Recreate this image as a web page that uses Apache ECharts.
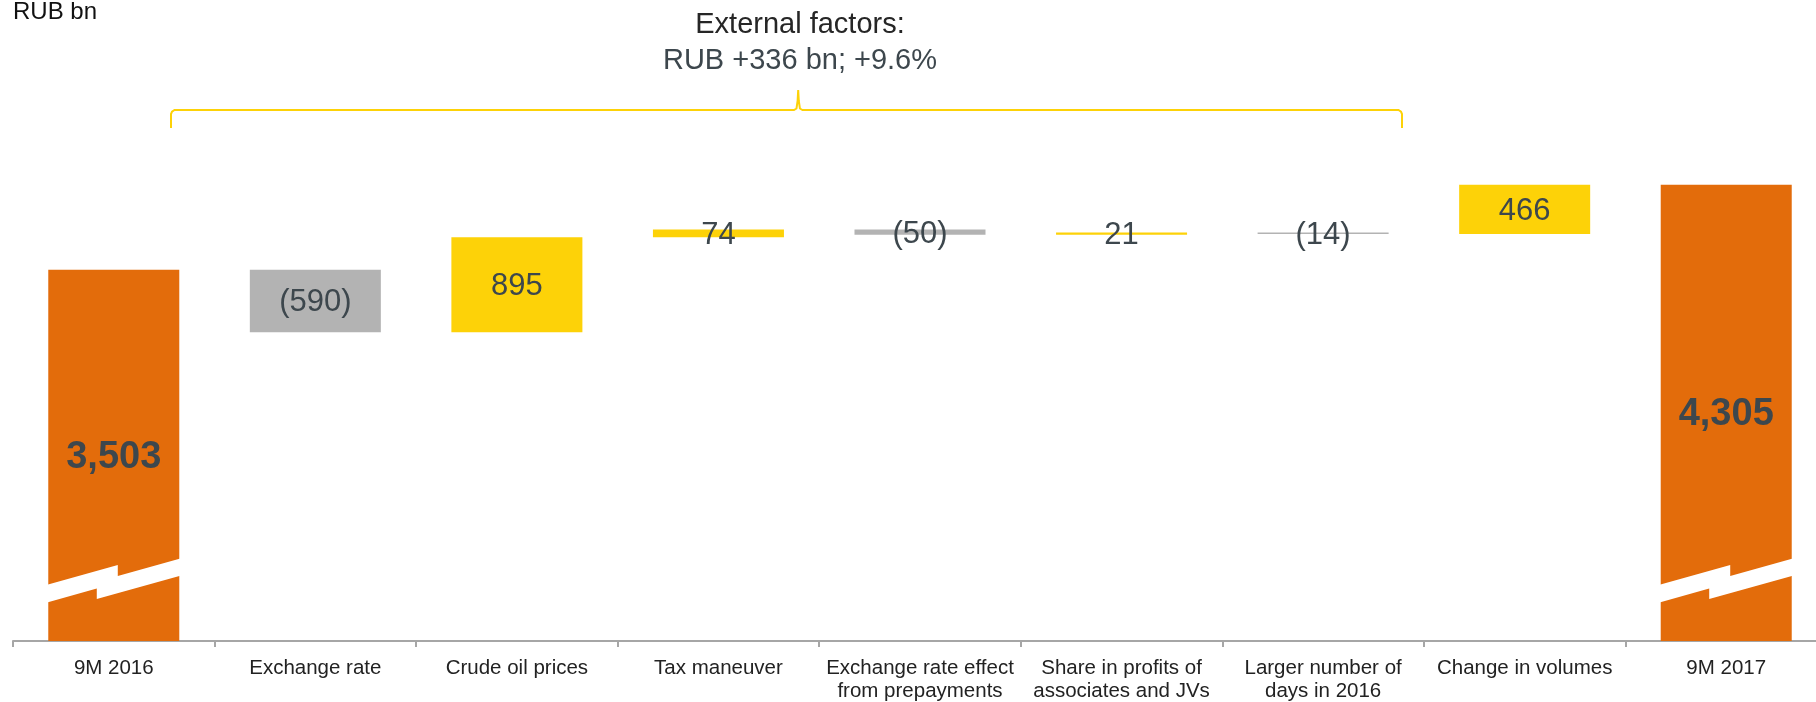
<!DOCTYPE html>
<html>
<head>
<meta charset="utf-8">
<script src="https://cdn.jsdelivr.net/npm/echarts@6/dist/echarts.min.js"></script>
<style>
  html, body { margin: 0; padding: 0; background: #fff; }
  #chart { width: 1816px; height: 702px; }
</style>
</head>
<body>
<div id="chart"></div>
<script>
// Revenue bridge, RUB bn
const categories = [
  '9M 2016',
  'Exchange rate',
  'Crude oil prices',
  'Tax maneuver',
  'Exchange rate effect\nfrom prepayments',
  'Share in profits of\nassociates and JVs',
  'Larger number of\ndays in 2016',
  'Change in volumes',
  '9M 2017'
];
const startTotal = 3503;
const changes = [-590, 895, 74, -50, 21, -14, 466];
const endTotal = 4305;

const FONT = "'Liberation Sans', Arial, sans-serif";
const ORANGE = '#E36C0B';
const YELLOW = '#FDD208';
const GREY = '#B3B3B3';
const LABEL = '#3D474D';

// Build the invisible base and visible step of each waterfall column
const baseData = [];
const stepData = [];
const shownValues = [];

baseData.push(0);
stepData.push({
  value: startTotal,
  itemStyle: { color: ORANGE },
  label: { fontSize: 38, fontWeight: 'bold' }
});
shownValues.push(startTotal);

let level = startTotal;
changes.forEach(function (c) {
  const next = level + c;
  baseData.push(Math.min(level, next));
  stepData.push({
    value: Math.abs(c),
    itemStyle: { color: c >= 0 ? YELLOW : GREY }
  });
  shownValues.push(c);
  level = next;
});

baseData.push(0);
stepData.push({
  value: endTotal,
  itemStyle: { color: ORANGE },
  label: { fontSize: 38, fontWeight: 'bold' }
});
shownValues.push(endTotal);

function fmt(i) {
  const v = shownValues[i];
  const isTotal = i === 0 || i === shownValues.length - 1;
  if (isTotal) return v.toLocaleString('en-US');
  return v < 0 ? '(' + Math.abs(v).toLocaleString('en-US') + ')' : v.toLocaleString('en-US');
}

const chart = echarts.init(document.getElementById('chart'), null, { renderer: 'canvas' });

const option = {
  animation: false,
  backgroundColor: '#ffffff',
  grid: {
    left: 13, width: 1814, top: 111, height: 530,
    containLabel: false,
    outerBoundsMode: 'none'
  },
  xAxis: {
    type: 'category',
    data: categories,
    boundaryGap: true,
    axisLine: { show: true, lineStyle: { color: '#A6A6A6', width: 2 } },
    axisTick: { show: true, length: 6, lineStyle: { color: '#A6A6A6', width: 2 } },
    axisLabel: {
      interval: 0,
      margin: 16,
      color: '#222222',
      fontFamily: FONT,
      fontSize: 20.5,
      lineHeight: 23,
      align: 'center',
      verticalAlign: 'top'
    },
    splitLine: { show: false }
  },
  yAxis: {
    type: 'value',
    min: 0,
    max: 5000,
    show: false,
    splitLine: { show: false }
  },
  series: [
    {
      name: 'base',
      type: 'bar',
      stack: 'bridge',
      barWidth: '65%',
      silent: true,
      itemStyle: { color: 'rgba(0,0,0,0)' },
      emphasis: { disabled: true },
      data: baseData
    },
    {
      name: 'step',
      type: 'bar',
      stack: 'bridge',
      barWidth: '65%',
      emphasis: { disabled: true },
      label: {
        show: true,
        position: 'inside',
        offset: [0, 2],
        color: LABEL,
        fontFamily: FONT,
        fontSize: 31,
        formatter: function (p) { return fmt(p.dataIndex); }
      },
      data: stepData,
      z: 2
    }
  ]
};

chart.setOption(option);

// Zig-zag break marks across the two total columns
const breakValue = 565;
const breakShape = [
  [-80, 7.5], [4, -16], [4, -5], [80, -26.3],
  [80, -9.2], [-17, 18], [-17, 7.5], [-80, 25.1]
];
function breakMark(catIndex) {
  const c = chart.convertToPixel({ gridIndex: 0 }, [catIndex, breakValue]);
  return {
    type: 'polygon',
    z: 100,
    silent: true,
    shape: { points: breakShape.map(function (p) { return [c[0] + p[0], c[1] + p[1]]; }) },
    style: { fill: '#ffffff', stroke: null }
  };
}

// Brace over the external factors
const braceColor = '#FDD208';
const bracePoints = [
  [171, 128], [171, 114], [172, 111.6], [174.5, 110], [794, 110],
  [796.5, 108.5], [797.6, 101], [798.2, 90], [798.8, 101], [799.9, 108.5],
  [802.5, 110], [1398.5, 110], [1401, 111.6], [1402, 114], [1402, 128]
];

chart.setOption({
  graphic: [
    breakMark(0),
    breakMark(categories.length - 1),
    {
      type: 'polyline',
      z: 50,
      silent: true,
      shape: { points: bracePoints },
      style: { stroke: braceColor, lineWidth: 2, fill: null }
    },
    {
      type: 'text',
      z: 50,
      x: 13, y: 12,
      style: {
        text: 'RUB bn',
        font: '24px ' + FONT,
        fill: '#111111',
        textAlign: 'left',
        textVerticalAlign: 'middle'
      }
    },
    {
      type: 'text',
      z: 50,
      x: 800, y: 25,
      style: {
        text: 'External factors:',
        font: '29px ' + FONT,
        fill: '#262626',
        textAlign: 'center',
        textVerticalAlign: 'middle'
      }
    },
    {
      type: 'text',
      z: 50,
      x: 800, y: 60.5,
      style: {
        text: 'RUB +336 bn; +9.6%',
        font: '29px ' + FONT,
        fill: '#3D474D',
        textAlign: 'center',
        textVerticalAlign: 'middle'
      }
    }
  ]
});
</script>
</body>
</html>
